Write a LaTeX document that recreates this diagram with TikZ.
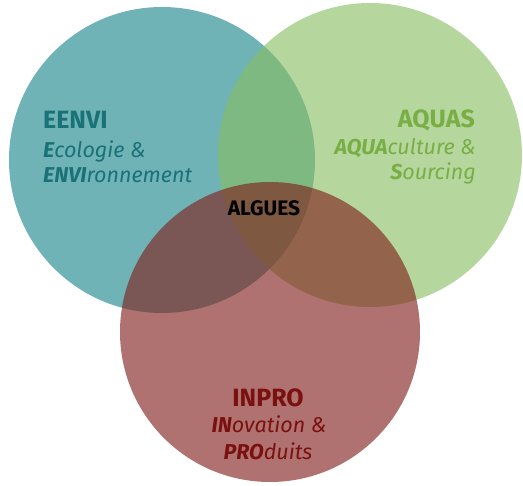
\documentclass[tikz,border=0pt]{standalone}
\usepackage{fontspec}
\setmainfont{Fira Sans}
\begin{document}
\begin{tikzpicture}[x=1pt,y=-1pt,
  ring/.style={circle,minimum size=#1,inner sep=0pt},
  title/.style={font=\bfseries\fontsize{25}{27}\selectfont,inner sep=0pt},
  subtitle/.style={font=\itshape\fontsize{21.5}{25}\selectfont,inner sep=0pt}]
\definecolor{tealfill}{HTML}{6FB3B6}
\definecolor{greenfill}{HTML}{87BE61}
\definecolor{redfill}{HTML}{81201C}
\definecolor{tealtext}{HTML}{1A7276}
\definecolor{greentext}{HTML}{79AE45}
\definecolor{redtext}{HTML}{7A1010}
\useasboundingbox (0,0) rectangle (523,486);
% three overlapping fields
\node[ring=306pt,fill=tealfill] (eenvi) at (162,160) {};
\node[ring=304pt,fill=greenfill,fill opacity=0.62] (aquas) at (370,155) {};
\node[ring=300pt,fill=redfill,fill opacity=0.63] (inpro) at (270,332) {};
% labels, one node per line
\node[title,text=tealtext,anchor=base west] (t1) at (43,129) {EENVI};
\node[subtitle,text=tealtext,anchor=base west] (s1a) at (43,158) {\textbf{E}cologie \&};
\node[subtitle,text=tealtext,anchor=base west] (s1b) at (43,183) {\textbf{ENVI}ronnement};
\node[title,text=greentext,anchor=base east] (t2) at (475,128) {AQUAS};
\node[subtitle,text=greentext,anchor=base east] (s2a) at (476,155) {\textbf{AQUA}culture \&};
\node[subtitle,text=greentext,anchor=base east] (s2b) at (476,180) {\textbf{S}ourcing};
\node[title,text=redtext,anchor=base] (t3) at (268,407) {INPRO};
\node[subtitle,text=redtext,anchor=base] (s3a) at (269,433) {\textbf{IN}ovation \&};
\node[subtitle,text=redtext,anchor=base] (s3b) at (268,460) {\textbf{PRO}duits};
\node[font=\bfseries\fontsize{21}{23}\selectfont,anchor=base,inner sep=0pt] (core) at (264,216) {ALGUES};
\end{tikzpicture}
\end{document}
